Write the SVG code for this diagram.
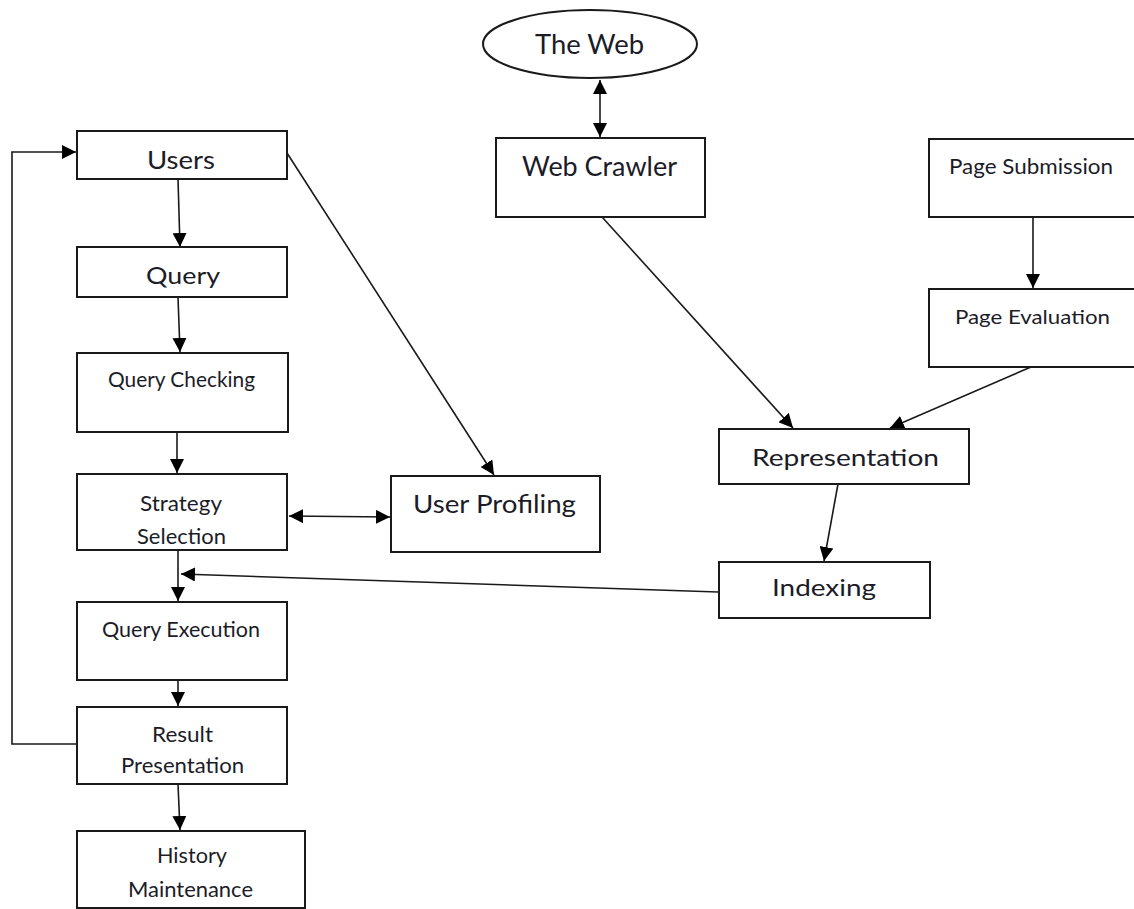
<svg xmlns="http://www.w3.org/2000/svg" width="1134" height="909" viewBox="0 0 1134 909">
<style>
.box{fill:#fff;stroke:#1a1a1a;stroke-width:2}
.t{font-family:Lato,"Open Sans","Liberation Sans",sans-serif;fill:#1c1c28}
.c{fill:none;stroke:#1a1a1a;stroke-width:1.6}
</style>
<defs>
<marker id="ah" markerUnits="userSpaceOnUse" markerWidth="14" markerHeight="14" viewBox="0 0 14 14" refX="14" refY="7" orient="auto-start-reverse">
<path d="M0,0 L14,7 L0,14 z" fill="#000"/>
</marker>
</defs>
<rect width="1134" height="909" fill="#fff"/>
<g id="connectors">
<line class="c" x1="600" y1="80" x2="600" y2="137" marker-start="url(#ah)" marker-end="url(#ah)"/>
<line class="c" x1="178" y1="179" x2="180" y2="247" marker-end="url(#ah)"/>
<line class="c" x1="178" y1="297" x2="180" y2="352" marker-end="url(#ah)"/>
<line class="c" x1="177" y1="432" x2="177" y2="473" marker-end="url(#ah)"/>
<line class="c" x1="289" y1="516" x2="390" y2="517" marker-start="url(#ah)" marker-end="url(#ah)"/>
<line class="c" x1="287" y1="153" x2="494" y2="475" marker-end="url(#ah)"/>
<line class="c" x1="178" y1="550" x2="178" y2="601" marker-end="url(#ah)"/>
<line class="c" x1="718" y1="592" x2="181" y2="574" marker-end="url(#ah)"/>
<line class="c" x1="178" y1="680" x2="178" y2="706" marker-end="url(#ah)"/>
<line class="c" x1="178" y1="784" x2="180" y2="830" marker-end="url(#ah)"/>
<polyline class="c" points="77,744 12,744 12,152 76,152" marker-end="url(#ah)"/>
<line class="c" x1="602" y1="217" x2="793" y2="428" marker-end="url(#ah)"/>
<line class="c" x1="1033" y1="217" x2="1033" y2="288" marker-end="url(#ah)"/>
<line class="c" x1="1031" y1="367" x2="890" y2="428" marker-end="url(#ah)"/>
<line class="c" x1="838" y1="484" x2="824" y2="561" marker-end="url(#ah)"/>
</g>
<g id="the-web">
<ellipse class="box" cx="590" cy="44" rx="107" ry="34" stroke-width="1.5"/>
<text class="t" x="535" y="54" font-size="26" textLength="109" lengthAdjust="spacingAndGlyphs">The Web</text>
</g>
<g id="web-crawler">
<rect class="box" x="496" y="138" width="209" height="79"/>
<text class="t" x="522" y="176" font-size="26" textLength="155" lengthAdjust="spacingAndGlyphs">Web Crawler</text>
</g>
<g id="page-submission">
<rect class="box" x="929" y="139" width="215" height="78"/>
<text class="t" x="949" y="174" font-size="21" textLength="164" lengthAdjust="spacingAndGlyphs">Page Submission</text>
</g>
<g id="page-evaluation">
<rect class="box" x="929" y="289" width="215" height="78"/>
<text class="t" x="955" y="324" font-size="20" textLength="155" lengthAdjust="spacingAndGlyphs">Page Evaluation</text>
</g>
<g id="representation">
<rect class="box" x="719" y="429" width="250" height="55"/>
<text class="t" x="752" y="466" font-size="24" textLength="187" lengthAdjust="spacingAndGlyphs">Representation</text>
</g>
<g id="indexing">
<rect class="box" x="719" y="562" width="211" height="56"/>
<text class="t" x="772" y="596" font-size="24" textLength="104" lengthAdjust="spacingAndGlyphs">Indexing</text>
</g>
<g id="users">
<rect class="box" x="77" y="131" width="210" height="48"/>
<text class="t" x="147" y="169" font-size="25" textLength="68" lengthAdjust="spacingAndGlyphs">Users</text>
</g>
<g id="query">
<rect class="box" x="77" y="247" width="210" height="50"/>
<text class="t" x="146" y="284" font-size="24" textLength="74" lengthAdjust="spacingAndGlyphs">Query</text>
</g>
<g id="query-checking">
<rect class="box" x="77" y="353" width="211" height="79"/>
<text class="t" x="108" y="387" font-size="22" textLength="147" lengthAdjust="spacingAndGlyphs">Query Checking</text>
</g>
<g id="strategy-selection">
<rect class="box" x="77" y="474" width="210" height="76"/>
<text class="t" x="140" y="511" font-size="21" textLength="82" lengthAdjust="spacingAndGlyphs">Strategy</text>
<text class="t" x="137" y="544" font-size="21" textLength="89" lengthAdjust="spacingAndGlyphs">Selection</text>
</g>
<g id="user-profiling">
<rect class="box" x="391" y="476" width="209" height="76"/>
<text class="t" x="413" y="513" font-size="25" textLength="163" lengthAdjust="spacingAndGlyphs">User Profiling</text>
</g>
<g id="query-execution">
<rect class="box" x="77" y="602" width="210" height="78"/>
<text class="t" x="102" y="637" font-size="21" textLength="158" lengthAdjust="spacingAndGlyphs">Query Execution</text>
</g>
<g id="result-presentation">
<rect class="box" x="77" y="707" width="210" height="77"/>
<text class="t" x="152" y="742" font-size="21" textLength="61" lengthAdjust="spacingAndGlyphs">Result</text>
<text class="t" x="121" y="773" font-size="21" textLength="123" lengthAdjust="spacingAndGlyphs">Presentation</text>
</g>
<g id="history-maintenance">
<rect class="box" x="77" y="831" width="228" height="77"/>
<text class="t" x="157" y="863" font-size="21" textLength="70" lengthAdjust="spacingAndGlyphs">History</text>
<text class="t" x="128" y="897" font-size="21" textLength="125" lengthAdjust="spacingAndGlyphs">Maintenance</text>
</g>
</svg>
